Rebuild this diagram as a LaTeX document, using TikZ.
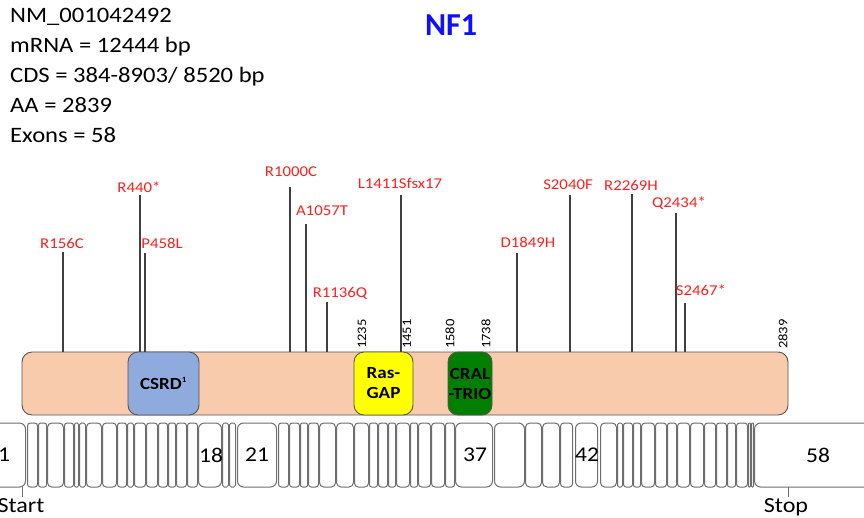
\documentclass[tikz,border=0pt]{standalone}
\usepackage{fontspec}
\setmainfont{Carlito}[FakeStretch=1.12]
\newfontfamily\titlefont{Carlito}
\usetikzlibrary{positioning}

\definecolor{peach}{HTML}{F8CBAD}
\definecolor{csrdblue}{HTML}{8FAADC}
\definecolor{gapyellow}{HTML}{FFFF00}
\definecolor{cralgreen}{HTML}{007F00}
\definecolor{mutred}{HTML}{FF1F1F}
\definecolor{titleblue}{HTML}{0F0FFF}
\definecolor{edgegray}{HTML}{555555}
\definecolor{exongray}{HTML}{6E6E6E}

\begin{document}
\begin{tikzpicture}[x=1pt, y=-1pt,
    mut/.style={text=mutred, font=\fontsize{15}{17}\selectfont, inner sep=1pt},
    stem/.style={draw=black!75, line width=1.1pt},
    dombox/.style={draw=edgegray, line width=0.9pt, rounded corners=10pt,
        minimum height=63pt, inner sep=0pt, align=center,
        font=\bfseries\fontsize{17}{20}\selectfont},
    exon/.style={draw=exongray, fill=white, line width=1pt},
    aanum/.style={rotate=90, anchor=west, inner sep=1pt,
        font=\fontsize{13}{15}\selectfont},
    exnum/.style={font=\fontsize{21}{24}\selectfont, inner sep=0pt},
    endtick/.style={draw=exongray, line width=1pt}]
    % --- 1. Canvas ---
    \useasboundingbox (0,0) rectangle (864,517);
    \clip (0,0) rectangle (864,517);

    % --- 2. Header ---
    \node[anchor=north west, align=left, inner sep=0pt,
        font=\fontsize{22}{30}\selectfont] (info) at (10,8)
        {NM\_001042492\\mRNA = 12444 bp\\CDS = 384-8903/ 8520 bp\\AA = 2839\\Exons = 58};
    \node[text=titleblue, font=\titlefont\bfseries\fontsize{32}{36}\selectfont] (title) at (451,25) {NF1};

    % --- 3. Protein bar and domains ---
    \node[dombox, fill=peach, minimum width=766pt] (prot) at (405,383.5) {};
    \node[dombox, fill=csrdblue, minimum width=71pt] (csrd) at (163.5,383.5)
        {CSRD\textsuperscript{\fontsize{8}{9}\selectfont 1}};
    \node[dombox, fill=gapyellow, minimum width=59pt] (rasgap) at (383.5,383.5) {Ras-\\GAP};
    \node[dombox, fill=cralgreen, minimum width=44pt] (cral) at (470,383.5) {CRAL\\-TRIO};

    % domain borders (amino acid positions)
    \foreach \p/\x in {1235/362, 1451/407, 1580/450, 1738/486, 2839/783}
        \node[aanum] (n\p) at (\x,350) {\p};

    % --- 4. Mutations ---
    % name / stem x / label x / label y / stem top / text
    \foreach \n/\sx/\lx/\ly/\top/\txt in {
        156/63/62/243/252/R156C,
        440/140/139/187/195/R440*,
        458/145/162/243/253/P458L,
        1000/290/291/172/187/R1000C,
        1057/306/322/211/224/A1057T,
        1136/327/340/293/302/R1136Q,
        1411/401/400/183/195/L1411Sfsx17,
        1849/517/528/242/253/D1849H,
        2040/570/568/185/195/S2040F,
        2269/632/631/185/194/R2269H,
        2434/676/679/203/213/Q2434*,
        2467/685/701/290/303/S2467*}{
        \coordinate (b\n) at (\sx,352);
        \coordinate (t\n) at (\sx,\top);
        \node[mut] (m\n) at (\lx,\ly) {\txt};
        \draw[stem] (b\n) -- (t\n);
    }

    % --- 5. Exons ---
    \foreach \l/\r [count=\i] in {-12/26, 27/38, 38/47, 47/64, 64/74, 74/79, 79/86,
        86/102, 102/117, 117/127, 127/134, 134/146, 146/158, 158/168, 168/176,
        176/187, 187/198, 198/222, 222/229, 229/236, 237/277, 278/289, 289/300,
        300/308, 308/319, 319/336, 336/354, 354/369, 369/378, 378/388, 388/396,
        396/410, 410/418, 418/431, 431/445, 445/455, 455/493, 494/525, 525/542,
        542/560, 560/573, 575/598, 600/617, 617/623, 623/633, 633/641, 641/655,
        655/667, 667/677, 677/690, 690/704, 704/716, 716/727, 727/736, 736/748,
        748/751, 751/754, 754/880}{
        \pgfmathsetmacro\rad{min(6,(\r-\l)/4)}
        \draw[exon, rounded corners=\rad pt] (\l+0.5,423) rectangle (\r-0.5,487);
    }
    \node[exnum] (x1) at (4,455) {1};
    \node[exnum] (x18) at (211,455) {18};
    \node[exnum] (x21) at (257,455) {21};
    \node[exnum] (x37) at (475,455) {37};
    \node[exnum] (x42) at (587,455) {42};
    \node[exnum] (x58) at (818,455) {58};

    % --- 6. Start / Stop ---
    \coordinate (cstart) at (22,487);
    \coordinate (cstop) at (788,487);
    \node[anchor=north, inner sep=1pt, font=\fontsize{21.5}{24}\selectfont]
        (start) at (21,497) {Start};
    \node[anchor=north, inner sep=1pt, font=\fontsize{21.5}{24}\selectfont]
        (stop) at (786,497) {Stop};
    \draw[endtick] (cstart) -- (start.north -| cstart);
    \draw[endtick] (cstop) -- (stop.north -| cstop);
\end{tikzpicture}
\end{document}
